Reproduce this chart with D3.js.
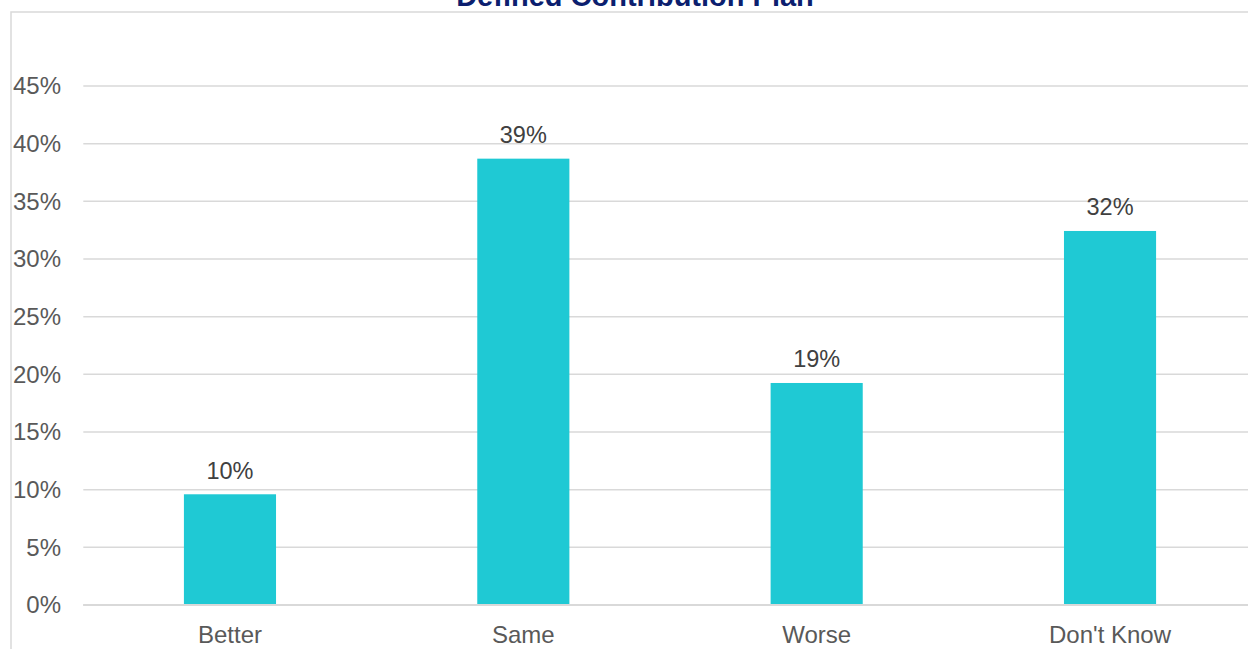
<!DOCTYPE html>
<html>
<head>
<meta charset="utf-8">
<script src="https://cdn.jsdelivr.net/npm/d3@7"></script>
<style>
html,body{margin:0;padding:0;background:#fff;overflow:hidden;}
svg{display:block;font-family:"Liberation Sans",Arial,sans-serif;}
</style>
</head>
<body>
<svg id="chart" width="1248" height="649"></svg>
<script>
const title = "Defined Contribution Plan";
const categories = ["Better", "Same", "Worse", "Don't Know"];
const values = [0.096, 0.387, 0.1925, 0.3243];
const valueLabels = ["10%", "39%", "19%", "32%"];
const yTicks = [0, 0.05, 0.10, 0.15, 0.20, 0.25, 0.30, 0.35, 0.40, 0.45];

const svg = d3.select("#chart");

// chart border
svg.append("rect")
  .attr("x", 11).attr("y", 12)
  .attr("width", 1300).attr("height", 700)
  .attr("fill", "none").attr("stroke", "#d9d9d9").attr("stroke-width", 1.5);

// title (partly cut by the top edge as in the reference)
svg.append("text")
  .attr("x", 635).attr("y", 6)
  .attr("text-anchor", "middle")
  .attr("font-size", 29).attr("font-weight", "bold")
  .attr("fill", "#0c1f6f")
  .text(title);

const plotLeft = 83.3, plotRight = 1256.7;
const y = d3.scaleLinear().domain([0, 0.45]).range([605, 86]);
const x = d3.scaleBand().domain(categories).range([plotLeft, plotRight])
  .paddingInner(0.686).paddingOuter(0.343);

// gridlines
svg.append("g").selectAll("line").data(yTicks).join("line")
  .attr("x1", plotLeft).attr("x2", 1260)
  .attr("y1", d => y(d)).attr("y2", d => y(d))
  .attr("stroke", "#d9d9d9").attr("stroke-width", d => d === 0 ? 2 : 1.5);

// y axis labels
const yAxis = d3.axisLeft(y).tickValues(yTicks).tickFormat(d3.format(".0%")).tickSize(0).tickPadding(0);
const gy = svg.append("g").attr("transform", "translate(61,0)").call(yAxis);
gy.select(".domain").remove();
gy.selectAll("text").attr("font-size", 24).attr("fill", "#595959")
  .attr("font-family", "Liberation Sans, Arial, sans-serif");

// bars
svg.append("g").selectAll("rect").data(categories).join("rect")
  .attr("x", d => x(d)).attr("width", x.bandwidth())
  .attr("y", (d, i) => y(values[i]))
  .attr("height", (d, i) => y(0) - y(values[i]))
  .attr("fill", "#1fc9d4");

// redraw baseline over bars
svg.append("line").attr("x1", plotLeft).attr("x2", 1260)
  .attr("y1", y(0)).attr("y2", y(0)).attr("stroke", "#d9d9d9").attr("stroke-width", 2);

// value labels
svg.append("g").selectAll("text").data(categories).join("text")
  .attr("x", d => x(d) + x.bandwidth() / 2)
  .attr("y", (d, i) => y(values[i]) - 15.5)
  .attr("text-anchor", "middle")
  .attr("font-size", 23.5).attr("fill", "#404040")
  .text((d, i) => valueLabels[i]);

// x axis labels
const xAxis = d3.axisBottom(x).tickSize(0).tickPadding(0);
const gx = svg.append("g").attr("transform", "translate(0,642.5)").call(xAxis);
gx.select(".domain").remove();
gx.selectAll("text").attr("font-size", 24).attr("fill", "#595959")
  .attr("font-family", "Liberation Sans, Arial, sans-serif").attr("dy", "0");
</script>
</body>
</html>
